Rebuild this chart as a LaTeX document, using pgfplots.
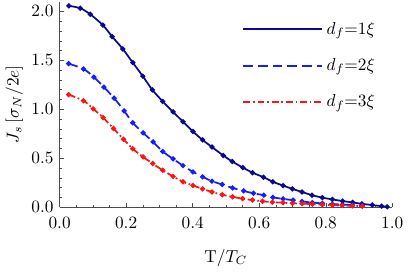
\documentclass[border=0pt]{standalone}
\usepackage{pgfplots}
\pgfplotsset{compat=1.18}
\definecolor{cnavy}{RGB}{10,10,140}
\definecolor{cblue}{RGB}{20,30,250}
\definecolor{cred}{RGB}{250,20,20}
\begin{document}
\begin{tikzpicture}
\begin{axis}[
  scale only axis,
  width=192.5pt, height=119pt,
  xmin=0, xmax=1.0, ymin=0, ymax=2.1,
  axis lines=left,
  axis line style={-, black!70},
  xtick={0,0.2,...,1.0},
  ytick={0,0.5,...,2.0},
  minor x tick num=3,
  minor y tick num=4,
  tick align=inside,
  major tick length=2.6pt,
  minor tick length=1.5pt,
  tick style={black!70},
  xticklabel style={yshift=-2.5pt,/pgf/number format/.cd,fixed,fixed zerofill,precision=1},
  yticklabel style={/pgf/number format/.cd,fixed,fixed zerofill,precision=1},
  xlabel={T$/T_C$},
  ylabel={$J_s\,[\sigma_N/2e]$},
  xlabel style={yshift=-5pt},
  ylabel style={yshift=-2pt},
  legend style={draw=none, fill=none, at={(0.975,0.935)}, anchor=north east,
    row sep=8.5pt, /tikz/every even column/.append style={column sep=7pt}},
  legend cell align=left,
  legend image code/.code={\draw[#1, line width=1.2pt] (0cm,0cm) -- (1.6cm,0cm);},
  every axis plot/.append style={mark=*, mark size=0.95pt, smooth, line width=1pt},
]
\addplot[color=cnavy, solid, mark options={solid}] coordinates {
(0.028,2.056)(0.062,2.032)(0.092,1.970)(0.130,1.859)(0.158,1.742)(0.190,1.615)
(0.220,1.476)(0.250,1.338)(0.279,1.197)(0.310,1.080)(0.341,0.973)(0.371,0.873)
(0.401,0.772)(0.430,0.686)(0.458,0.614)(0.492,0.528)(0.519,0.466)(0.551,0.404)
(0.580,0.352)(0.613,0.306)(0.641,0.259)(0.672,0.220)(0.700,0.186)(0.729,0.155)
(0.759,0.122)(0.790,0.097)(0.820,0.079)(0.851,0.062)(0.881,0.048)(0.909,0.034)
(0.940,0.021)(0.968,0.010)(0.985,0.003)};
\addlegendentry{$d_f{=}1\xi$}
\addplot[color=cblue, dash pattern=on 5.5pt off 3pt, mark options={solid}] coordinates {
(0.027,1.466)(0.072,1.411)(0.103,1.328)(0.133,1.225)(0.164,1.114)(0.194,0.983)
(0.220,0.862)(0.251,0.759)(0.281,0.666)(0.310,0.569)(0.341,0.493)(0.371,0.424)
(0.401,0.360)(0.430,0.310)(0.458,0.265)(0.489,0.231)(0.520,0.196)(0.553,0.166)
(0.583,0.141)(0.614,0.122)(0.641,0.100)(0.672,0.084)(0.702,0.071)(0.729,0.058)
(0.760,0.047)(0.790,0.038)(0.820,0.031)(0.850,0.026)(0.880,0.021)(0.910,0.017)};
\addlegendentry{$d_f{=}2\xi$}
\addplot[color=cred, dash pattern=on 4pt off 1.6pt on 1pt off 1.6pt, mark options={solid}] coordinates {
(0.027,1.149)(0.072,1.087)(0.101,1.004)(0.131,0.914)(0.162,0.803)(0.192,0.694)
(0.220,0.596)(0.251,0.513)(0.280,0.445)(0.310,0.376)(0.341,0.314)(0.371,0.259)
(0.401,0.222)(0.430,0.186)(0.458,0.155)(0.489,0.127)(0.520,0.105)(0.550,0.087)
(0.580,0.072)(0.610,0.060)(0.640,0.051)(0.672,0.045)(0.700,0.040)(0.729,0.036)
(0.760,0.030)(0.790,0.025)(0.820,0.020)(0.850,0.016)(0.880,0.013)(0.910,0.010)};
\addlegendentry{$d_f{=}3\xi$}
\end{axis}
\end{tikzpicture}
\end{document}
